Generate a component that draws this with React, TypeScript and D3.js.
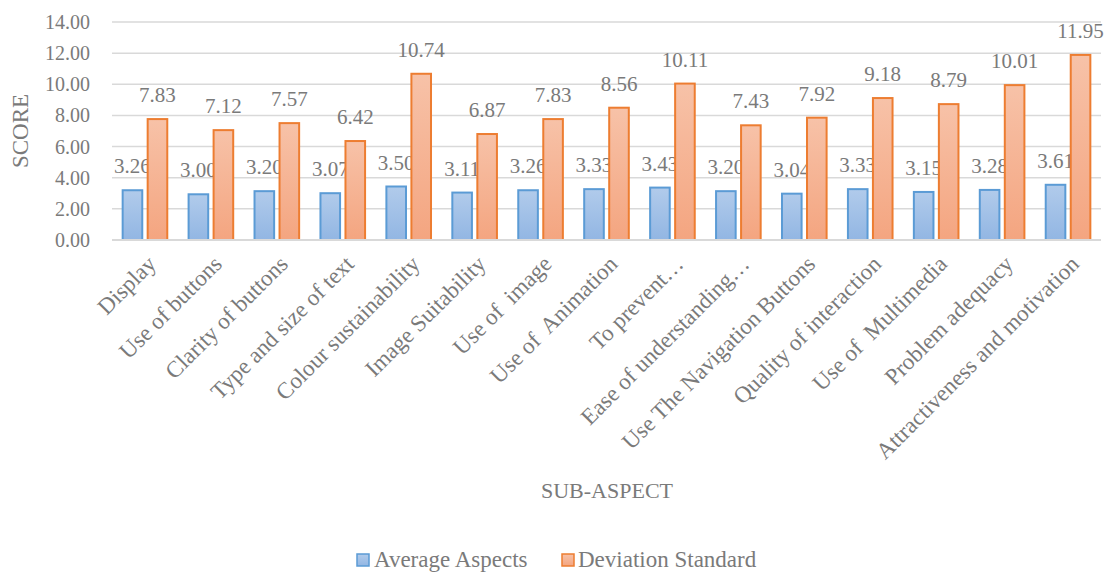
import React from "react";
import * as d3 from "d3";

const categories = [
  "Display",
  "Use of buttons",
  "Clarity of buttons",
  "Type and size of text",
  "Colour sustainability",
  "Image Suitability",
  "Use of  image",
  "Use of  Animation",
  "To prevent…",
  "Ease of understanding…",
  "Use The Navigation Buttons",
  "Quality of interaction",
  "Use of  Multimedia",
  "Problem adequacy",
  "Attractiveness and motivation",
];
const averageAspects = [3.26, 3.0, 3.2, 3.07, 3.5, 3.11, 3.26, 3.33, 3.43, 3.2, 3.04, 3.33, 3.15, 3.28, 3.61];
const deviationStandard = [7.83, 7.12, 7.57, 6.42, 10.74, 6.87, 7.83, 8.56, 10.11, 7.43, 7.92, 9.18, 8.79, 10.01, 11.95];
const seriesNames = ["Average Aspects", "Deviation Standard"];
const yTicks = [0, 2, 4, 6, 8, 10, 12, 14];

const W = 1109;
const H = 572;
const FONT = "'Liberation Serif', 'Times New Roman', serif";
const TXT = "#7a7a7a";

export default function App() {
  const x0 = d3.scaleBand<string>().domain(categories).range([112, 1101]).paddingInner(0.293).paddingOuter(0.1465);
  const x1 = d3.scaleBand<string>().domain(seriesNames).range([0, x0.bandwidth()]).paddingInner(0.136);
  const y = d3.scaleLinear().domain([0, 14]).range([240, 22]);
  const series = [
    { name: seriesNames[0], values: averageAspects, fill: "url(#gBlue)", stroke: "#5b9bd5" },
    { name: seriesNames[1], values: deviationStandard, fill: "url(#gOrange)", stroke: "#ed7d31" },
  ];
  const sw = 2;
  return (
    <svg width={W} height={H} style={{ position: "absolute", left: 0, top: 0, display: "block" }} fontFamily={FONT}>
      <defs>
        <linearGradient id="gBlue" x1="0" y1="0" x2="0" y2="1">
          <stop offset="0" stopColor="#b1cbeb" />
          <stop offset="1" stopColor="#92b6e3" />
        </linearGradient>
        <linearGradient id="gOrange" x1="0" y1="0" x2="0" y2="1">
          <stop offset="0" stopColor="#f7c2a8" />
          <stop offset="1" stopColor="#f4a580" />
        </linearGradient>
      </defs>
      <rect width={W} height={H} fill="#fff" />
      {yTicks.map((t) => (
        <g key={t}>
          {t !== 0 && <line x1={112} x2={1101} y1={y(t)} y2={y(t)} stroke="#d9d9d9" strokeWidth={1.5} />}
          <text x={90} y={y(t) + 7} textAnchor="end" fontSize={20} fill={TXT}>
            {t.toFixed(2)}
          </text>
        </g>
      ))}
      {categories.map((c, i) => (
        <g key={c}>
          {series.map((s) => {
            const v = s.values[i];
            const bx = (x0(c) as number) + (x1(s.name) as number);
            const bw = x1.bandwidth();
            return (
              <g key={s.name}>
                <rect
                  x={bx + sw / 2}
                  y={y(v) + sw / 2}
                  width={bw - sw}
                  height={y(0) - y(v) - sw / 2}
                  fill={s.fill}
                  stroke={s.stroke}
                  strokeWidth={sw}
                />
                <text x={bx + bw / 2} y={y(v) - 16} textAnchor="middle" fontSize={21} fill={TXT}>
                  {v.toFixed(2)}
                </text>
              </g>
            );
          })}
        </g>
      ))}
      <line x1={112} x2={1101} y1={y(0)} y2={y(0)} stroke="#d9d9d9" strokeWidth={2} />
      {categories.map((c) => {
        const cx = (x0(c) as number) + x0.bandwidth() / 2;
        return (
          <text
            key={c}
            transform={`translate(${cx + 1},${254}) rotate(-45)`}
            textAnchor="end"
            dy="0.7em"
            fontSize={23}
            fill={TXT}
            style={{ whiteSpace: "pre" }}
          >
            {c}
          </text>
        );
      })}
      <text transform="translate(28,131) rotate(-90)" textAnchor="middle" fontSize={23} fill={TXT}>
        SCORE
      </text>
      <text x={607} y={498} textAnchor="middle" fontSize={22} fill={TXT}>
        SUB-ASPECT
      </text>
      <g>
        <rect x={357} y={554} width={12} height={12} fill="url(#gBlue)" stroke="#5b9bd5" strokeWidth={1.5} />
        <text x={374} y={567} fontSize={23} fill={TXT}>
          {seriesNames[0]}
        </text>
        <rect x={562} y={554} width={12} height={12} fill="url(#gOrange)" stroke="#ed7d31" strokeWidth={1.5} />
        <text x={578} y={567} fontSize={23} fill={TXT}>
          {seriesNames[1]}
        </text>
      </g>
    </svg>
  );
}
